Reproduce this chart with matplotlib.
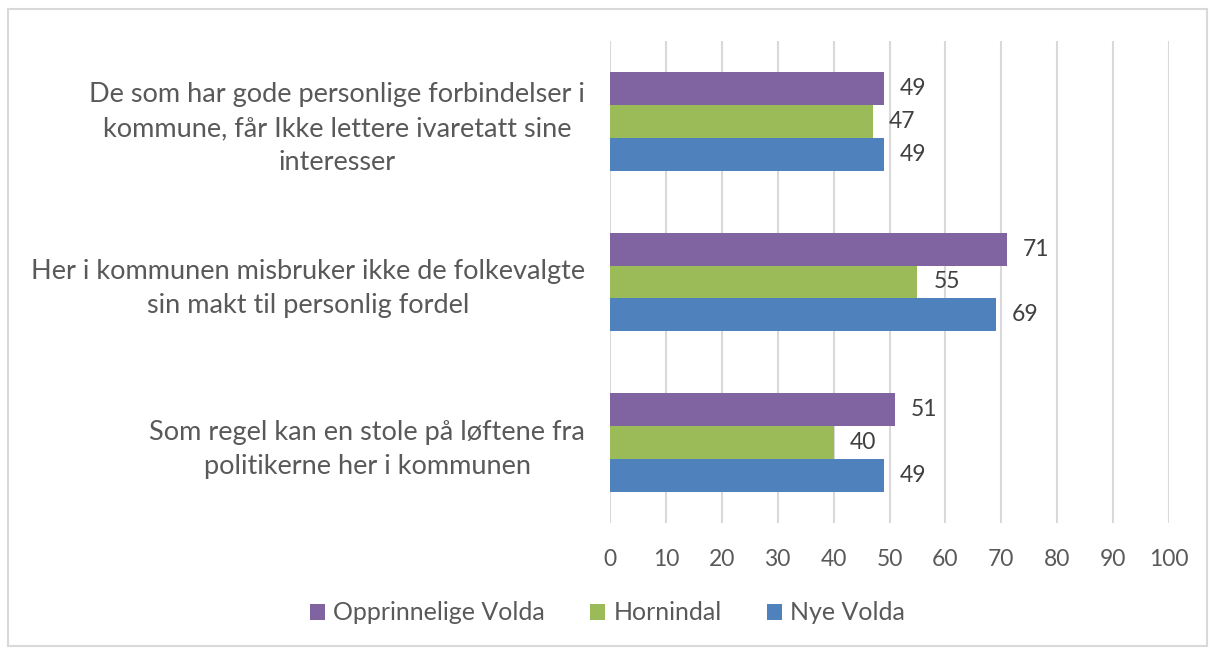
import matplotlib
matplotlib.use('Agg')
import matplotlib.pyplot as plt
import numpy as np
from matplotlib.patches import Rectangle

# data
categories = ['De som har gode personlige forbindelser i\nkommune, får Ikke lettere ivaretatt sine\ninteresser',
              'Her i kommunen misbruker ikke de folkevalgte\nsin makt til personlig fordel',
              'Som regel kan en stole på løftene fra\npolitikerne her i kommunen']
series_names = ['Opprinnelige Volda', 'Hornindal', 'Nye Volda']
opprinnelige_volda = [49, 71, 51]
hornindal = [47, 55, 40]
nye_volda = [49, 69, 49]

colors = ['#8064A2', '#9BBB59', '#4F81BD']
plt.rcParams['font.family'] = ['Lato', 'DejaVu Sans']

fig = plt.figure(figsize=(12.15, 6.48), dpi=100)
ax = fig.add_axes([610 / 1215, 1 - 523 / 648, 559 / 1215, 482 / 648])

y = np.arange(len(categories))
h = 0.205
offsets = [-h, 0, h]
for vals, name, col, off in zip([opprinnelige_volda, hornindal, nye_volda], series_names, colors, offsets):
    bars = ax.barh(y + off, vals, height=h, color=col, label=name, zorder=3)
    for b, v in zip(bars, vals):
        ax.annotate(str(v), (v, b.get_y() + b.get_height() / 2), xytext=(11.5, 0),
                    textcoords='offset points', va='center', ha='left',
                    fontsize=16.5, color='#404040')

ax.set_xlim(0, 100)
ax.set_ylim(-0.5, 2.5)
ax.invert_yaxis()
ax.set_xticks(range(0, 101, 10))
ax.set_yticks(y)
ax.set_yticklabels(categories, fontsize=19.5, color='#595959', ha='right',
                   multialignment='center', linespacing=1.45)
ax.tick_params(axis='y', length=0, pad=18)
ax.tick_params(axis='x', length=0, pad=19, labelsize=16.5, labelcolor='#595959')
ax.grid(axis='x', color='#D9D9D9', linewidth=1.5, zorder=0)
for s in ['top', 'right', 'bottom', 'left']:
    ax.spines[s].set_visible(False)

ax.legend(loc='center', bbox_to_anchor=(0.5, 1 - 613 / 648), bbox_transform=fig.transFigure,
          ncol=3, frameon=False, fontsize=18, handlelength=0.6, handleheight=0.6,
          handletextpad=0.33, columnspacing=1.8, labelcolor='#595959')

fig.patches.append(Rectangle((8 / 1215, 0.003), 1 - 16 / 1215, 1 - 9 / 648 - 0.003,
                             transform=fig.transFigure, fill=False,
                             edgecolor='#D9D9D9', linewidth=1.5))

fig.savefig('out.png', dpi=100, facecolor='white')
